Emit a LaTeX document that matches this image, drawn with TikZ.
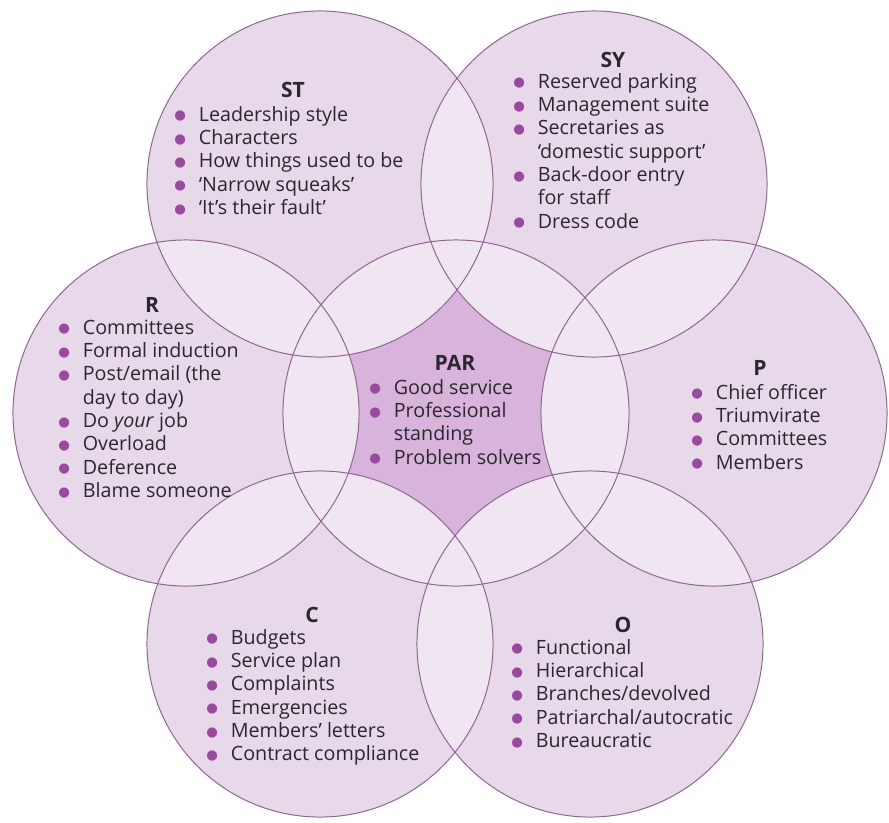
\documentclass[tikz,border=0pt]{standalone}
\usepackage{fontspec}
\setmainfont{Open Sans}
\newfontfamily\symfont{DejaVu Sans}
\definecolor{circfill}{HTML}{E7D8EA}
\definecolor{lensfill}{HTML}{F0E6F2}
\definecolor{corefill}{HTML}{D8B3DB}
\definecolor{circline}{HTML}{8F6491}
\definecolor{bulcol}{HTML}{9A4A9E}
\definecolor{txtcol}{HTML}{2A2730}
\newcommand{\bdot}{\makebox[17.5pt][l]{\raisebox{0.8pt}{\textcolor{bulcol}{\symfont\fontsize{9.5}{9.5}\selectfont ●}}}}
\newcommand{\ind}{\hspace*{17.5pt}}
\tikzset{
  circ/.style={draw=circline, line width=0.7pt},
  ttl/.style={anchor=base, inner sep=0pt, text=txtcol, font=\fontsize{15}{16.6}\selectfont\bfseries},
  lst/.style={anchor=base west, inner sep=0pt, text=txtcol, font=\fontsize{14}{16.6}\selectfont}
}
\begin{document}
\begin{tikzpicture}[x=0.025cm, y=-0.025cm]
\useasboundingbox (0,0) rectangle (889,823);
\def\rr{4.325cm}
\coordinate (par) at (456,413);
\coordinate (st) at (320,184);
\coordinate (sy) at (594,184);
\coordinate (r) at (186,413);
\coordinate (p) at (714,413);
\coordinate (c) at (320,644);
\coordinate (o) at (590,644);

\fill[corefill] (par) circle[radius=\rr];
\foreach \cn in {st,sy,r,p,c,o}
  \fill[circfill] (\cn) circle[radius=\rr];
\foreach \a/\b in {par/st,par/sy,par/r,par/p,par/c,par/o,st/sy,sy/p,p/o,o/c,c/r,r/st} {
  \begin{scope}
    \clip (\a) circle[radius=\rr];
    \fill[lensfill] (\b) circle[radius=\rr];
  \end{scope}
}
\foreach \cn in {par,st,sy,r,p,c,o}
  \draw[circ] (\cn) circle[radius=\rr];

\node[ttl] (sttitle) at (293,97) {ST};
\node[lst] (stlist) at (174,121) {\begin{tabular}[t]{@{}l@{}}
\bdot Leadership style\\
\bdot Characters\\
\bdot How things used to be\\
\bdot ‘Narrow squeaks’\\
\bdot ‘It’s their fault’
\end{tabular}};

\node[ttl] (sytitle) at (613,67) {SY};
\node[lst] (sylist) at (513,88) {\begin{tabular}[t]{@{}l@{}}
\bdot Reserved parking\\
\bdot Management suite\\
\bdot Secretaries as\\
\ind ‘domestic support’\\
\bdot Back-door entry\\
\ind for staff\\
\bdot Dress code
\end{tabular}};

\node[ttl] (rtitle) at (152,312) {R};
\node[lst] (rlist) at (58,334) {\begin{tabular}[t]{@{}l@{}}
\bdot Committees\\
\bdot Formal induction\\
\bdot Post/email (the\\
\ind day to day)\\
\bdot Do \textit{your} job\\
\bdot Overload\\
\bdot Deference\\
\bdot Blame someone
\end{tabular}};

\node[ttl] (partitle) at (455,370) {PAR};
\node[lst] (parlist) at (369,394) {\begin{tabular}[t]{@{}l@{}}
\bdot Good service\\
\bdot Professional\\
\ind standing\\
\bdot Problem solvers
\end{tabular}};

\node[ttl] (ptitle) at (760,375) {P};
\node[lst] (plist) at (691,399) {\begin{tabular}[t]{@{}l@{}}
\bdot Chief officer\\
\bdot Triumvirate\\
\bdot Committees\\
\bdot Members
\end{tabular}};

\node[ttl] (ctitle) at (312,622) {C};
\node[lst] (clist) at (206,644) {\begin{tabular}[t]{@{}l@{}}
\bdot Budgets\\
\bdot Service plan\\
\bdot Complaints\\
\bdot Emergencies\\
\bdot Members’ letters\\
\bdot Contract compliance
\end{tabular}};

\node[ttl] (otitle) at (623,632) {O};
\node[lst] (olist) at (511,654) {\begin{tabular}[t]{@{}l@{}}
\bdot Functional\\
\bdot Hierarchical\\
\bdot Branches/devolved\\
\bdot Patriarchal/autocratic\\
\bdot Bureaucratic
\end{tabular}};
\end{tikzpicture}
\end{document}
